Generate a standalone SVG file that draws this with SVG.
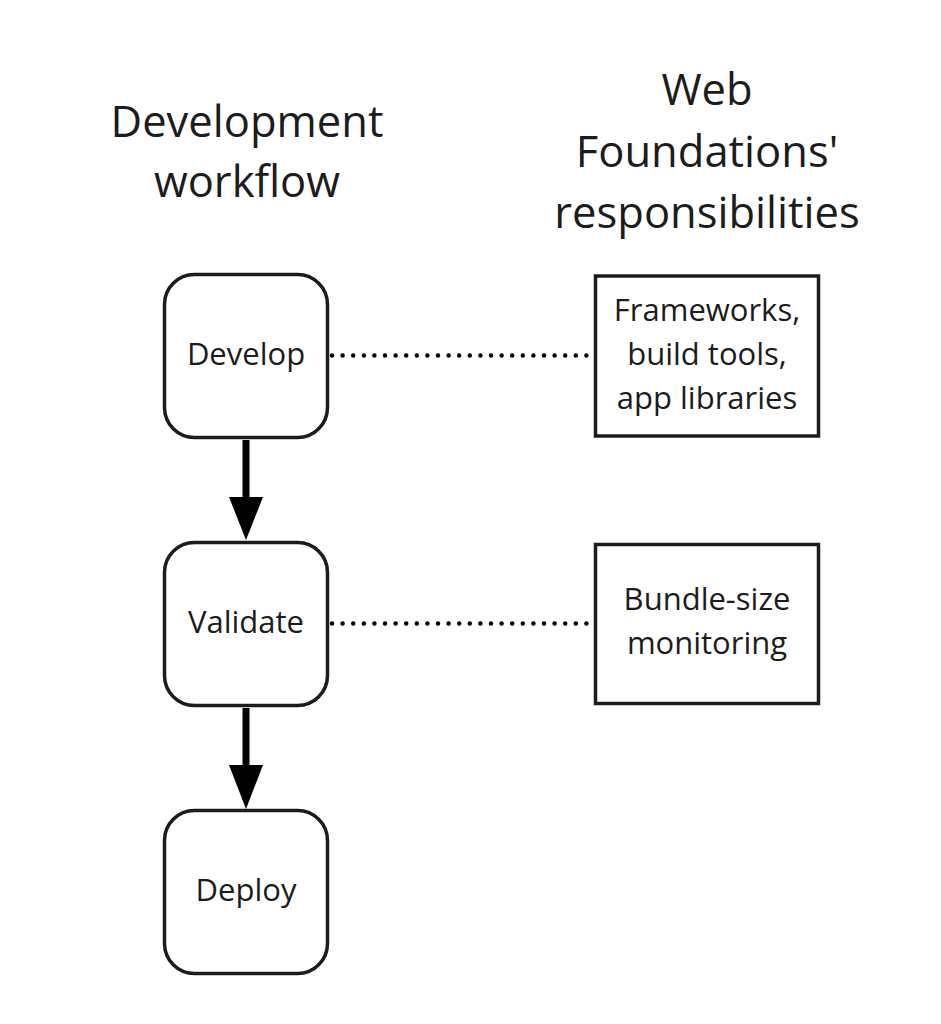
<svg xmlns="http://www.w3.org/2000/svg" width="941" height="1024" viewBox="0 0 941 1024">
<style>
text{font-family:"Open Sans","Noto Sans","DejaVu Sans",sans-serif;fill:#1c1c1c;text-anchor:middle}
.title{font-size:43.5px}
.lbl{font-size:31px}
.node{fill:#fff;stroke:#1c1c1c;stroke-width:3.5}
.dot{stroke:#000;stroke-width:4.5;stroke-linecap:round;stroke-dasharray:0 10.6;fill:none}
.shaft{stroke:#000;stroke-width:7;fill:none}
</style>
<rect width="941" height="1024" fill="#fff"/>
<g id="titles">
<text class="title" x="247" y="137">Development</text>
<text class="title" x="247" y="197">workflow</text>
<text class="title" x="707" y="105">Web</text>
<text class="title" x="707" y="167">Foundations'</text>
<text class="title" x="707" y="228">responsibilities</text>
</g>
<g id="connectors">
<line class="shaft" x1="246" y1="440" x2="246" y2="502"/>
<polygon points="229,497 263,497 246,540" fill="#000"/>
<line class="shaft" x1="246" y1="708" x2="246" y2="770"/>
<polygon points="229,765 263,765 246,809" fill="#000"/>
<line class="dot" x1="332" y1="355.5" x2="586.4" y2="355.5"/>
<line class="dot" x1="332" y1="623.5" x2="586.4" y2="623.5"/>
</g>
<g id="develop">
<rect class="node" x="164.5" y="274.5" width="163" height="163" rx="30"/>
<text class="lbl" x="246" y="365">Develop</text>
</g>
<g id="validate">
<rect class="node" x="164.5" y="542.5" width="163" height="163" rx="30"/>
<text class="lbl" x="246" y="633">Validate</text>
</g>
<g id="deploy">
<rect class="node" x="164.5" y="810.5" width="163" height="163" rx="30"/>
<text class="lbl" x="246" y="901">Deploy</text>
</g>
<g id="frameworks">
<rect class="node" x="595.5" y="276" width="223" height="160"/>
<text class="lbl" x="707" y="321">Frameworks,</text>
<text class="lbl" x="707" y="365">build tools,</text>
<text class="lbl" x="707" y="409">app libraries</text>
</g>
<g id="bundle">
<rect class="node" x="595.5" y="544.5" width="223" height="159"/>
<text class="lbl" x="707" y="610">Bundle-size</text>
<text class="lbl" x="707" y="654">monitoring</text>
</g>
</svg>
